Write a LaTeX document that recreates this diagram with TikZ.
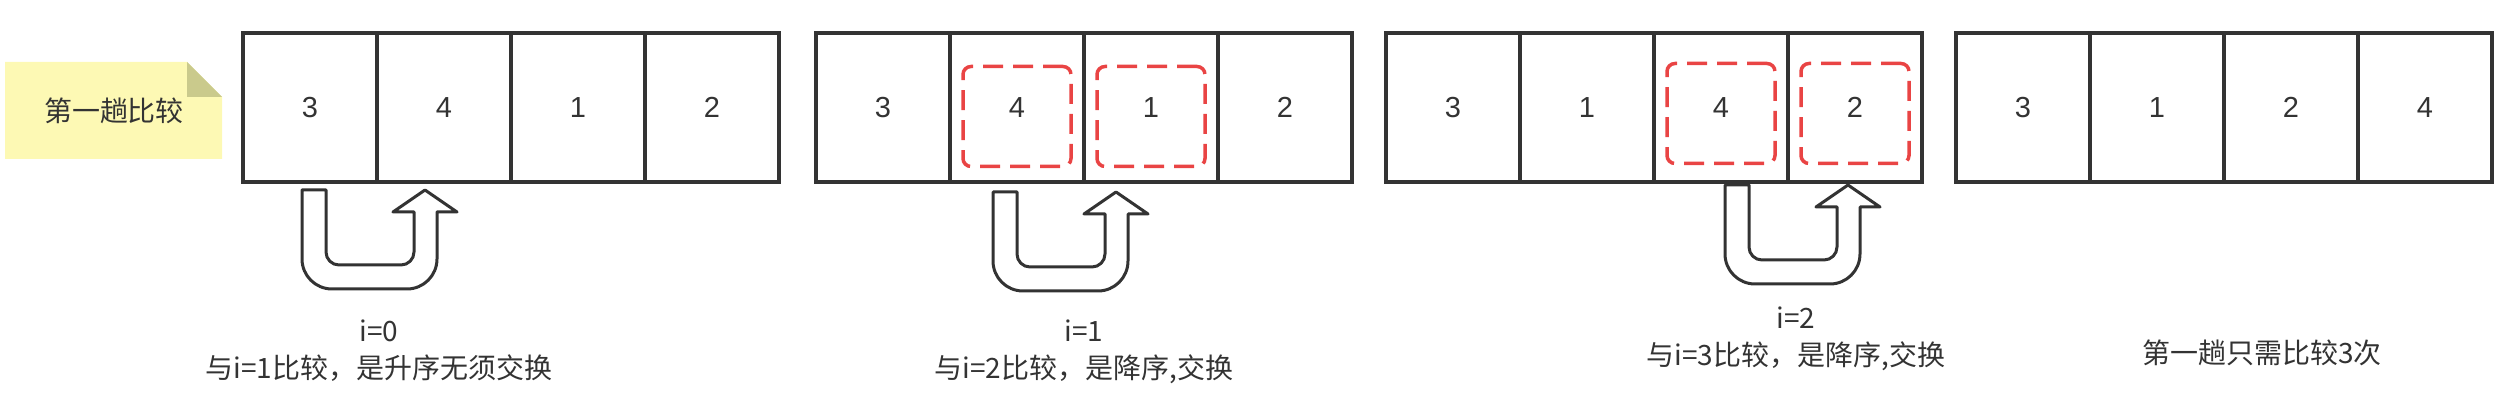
\documentclass[tikz,border=0pt]{standalone}
\usepackage{fontspec}
\setmainfont{Noto Sans CJK SC}
\newfontfamily\numfont{Liberation Sans}
\usetikzlibrary{positioning}
\definecolor{boxline}{HTML}{333333}
\definecolor{swapred}{HTML}{E94444}
\definecolor{notefill}{HTML}{FDF9B4}
\definecolor{notefold}{HTML}{CACA8C}
\tikzset{
  cell/.style={draw=boxline, line width=2pt, minimum width=67pt, minimum height=74.5pt,
    inner sep=0pt, text=boxline, font=\numfont\fontsize{14.5}{14.5}\selectfont},
  hl/.style={draw=swapred, line width=1.75pt, dash pattern=on 10pt off 5pt,
    rounded corners=4pt, minimum width=54pt, minimum height=50pt},
  lbl/.style={align=center, text=boxline, font=\fontsize{14}{18.5}\selectfont},
  uturn/.pic={
    \draw[boxline, line width=1.5pt, fill=white, line join=round]
      (0,0) -- (24,0) -- (24,10) [rounded corners=6.5pt] -- (24,75) -- (112,75) -- (112,40)
      [sharp corners] -- (112,22) -- (91,22) -- (123,0) -- (155,22) -- (135,22) -- (135,30)
      [rounded corners=15pt] -- (135,99) -- (0,99) -- (0,30) [sharp corners] -- cycle;
  }
}
\begin{document}
\begin{tikzpicture}[x=0.5pt,y=-0.5pt,node distance=67pt]
  \useasboundingbox (0,0) rectangle (2508,416);
  % sticky note
  \fill[notefill] (5,62) -- (187,62) -- (222,97) -- (222,159) -- (5,159) -- cycle;
  \fill[notefold] (187,62) -- (187,97) -- (222,97) -- cycle;
  \node[lbl] (pass) at (114,111) {第一趟比较};
  % i=0
  \node[cell] (a1) at (310,107.5) {3};
  \node[cell] (a2) [right of=a1] {4};
  \node[cell] (a3) [right of=a2] {1};
  \node[cell] (a4) [right of=a3] {2};
  % i=1
  \node[cell] (b1) at (883,107.5) {3};
  \node[cell] (b2) [right of=b1] {4};
  \node[cell] (b3) [right of=b2] {1};
  \node[cell] (b4) [right of=b3] {2};
  \node[hl, yshift=-4.5pt] (hb2) at (b2) {};
  \node[hl, yshift=-4.5pt] (hb3) at (b3) {};
  % i=2
  \node[cell] (c1) at (1453,107.5) {3};
  \node[cell] (c2) [right of=c1] {1};
  \node[cell] (c3) [right of=c2] {4};
  \node[cell] (c4) [right of=c3] {2};
  \node[hl, yshift=-3pt] (hc3) at (c3) {};
  \node[hl, yshift=-3pt] (hc4) at (c4) {};
  % result
  \node[cell] (d1) at (2023,107.5) {3};
  \node[cell] (d2) [right of=d1] {1};
  \node[cell] (d3) [right of=d2] {2};
  \node[cell] (d4) [right of=d3] {4};
  % swap arrows
  \pic at (302,190) {uturn};
  \pic at (993,192) {uturn};
  \pic at (1725,185) {uturn};
  % captions
  \node[lbl] (ta) at (379,351) {i=0\\与i=1比较，是升序无须交换};
  \node[lbl] (tb) at (1084,352) {i=1\\与i=2比较，是降序,交换};
  \node[lbl] (tc) at (1796,338.5) {i=2\\与i=3比较，是降序,交换};
  \node[lbl] (td) at (2262,353) {第一趟只需比较3次};
\end{tikzpicture}
\end{document}
